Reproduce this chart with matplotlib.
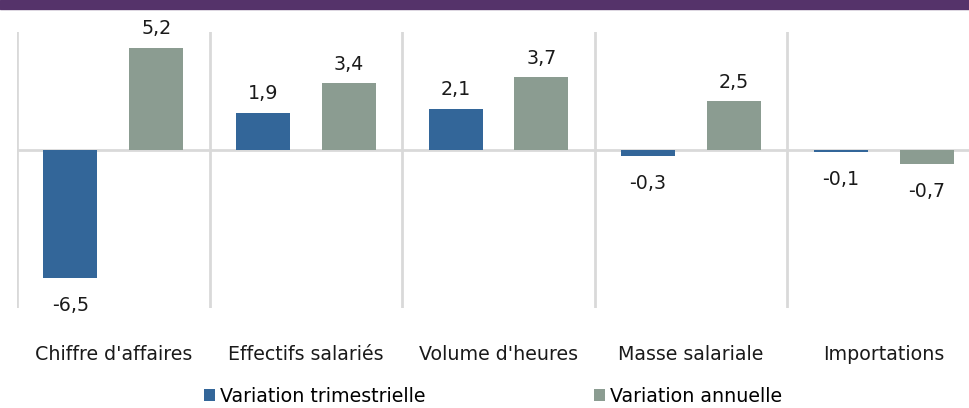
import numpy as np
import matplotlib.pyplot as plt
from matplotlib.patches import Rectangle

categories = ["Chiffre d'affaires", "Effectifs salariés", "Volume d'heures",
              "Masse salariale", "Importations"]
trimestrielle = [-6.5, 1.9, 2.1, -0.3, -0.1]
annuelle = [5.2, 3.4, 3.7, 2.5, -0.7]
series_names = ["Variation trimestrielle", "Variation annuelle"]

blue = "#336699"
gray = "#8B9C91"
grid_col = "#D9D9D9"

fig = plt.figure(figsize=(9.7, 4.08), dpi=100)
W, H = 970, 408
# axes: x 17..980 px, y 32..308 px
ax = fig.add_axes([17 / W, 1 - 308 / H, 963 / W, 276 / H])

# purple band at the top
fig.patches.append(Rectangle((0, 1 - 9 / H), 1, 9 / H, transform=fig.transFigure,
                             color="#55336A", zorder=0))

x = np.arange(len(categories))
w = 0.28
off = 0.223
b1 = ax.bar(x - off, trimestrielle, w, color=blue, label=series_names[0], zorder=3)
b2 = ax.bar(x + off, annuelle, w, color=gray, label=series_names[1], zorder=3)

ax.set_xlim(-0.5, len(categories) - 0.5)
ax.set_ylim(-8, 6)

for xc in np.arange(len(categories) + 1) - 0.5:
    ax.axvline(xc, color=grid_col, lw=2, zorder=1)
ax.axhline(0, color=grid_col, lw=2, zorder=2)

fs = 13.7
for bars, vals in ((b1, trimestrielle), (b2, annuelle)):
    for r, v in zip(bars, vals):
        txt = f"{v:.1f}".replace(".", ",")
        dy = 19 if v >= 0 else -27
        ax.annotate(txt, (r.get_x() + r.get_width() / 2, v), xytext=(0, dy),
                    textcoords="offset pixels",
                    ha="center", va="center", fontsize=fs, color="#1a1a1a")

for s in ax.spines.values():
    s.set_visible(False)
ax.set_yticks([])
ax.set_xticks(x)
ax.set_xticklabels(categories, fontsize=fs, color="#1a1a1a")
ax.tick_params(axis="x", length=0, pad=27)

fig.legend(handles=[b1, b2], loc="center left", bbox_to_anchor=(204 / W, 1 - 396 / H),
           ncol=2, frameon=False, fontsize=fs, handlelength=0.6, handleheight=0.6,
           handletextpad=0.25, columnspacing=8.85, borderaxespad=0, borderpad=0)

fig.savefig("out.png", dpi=100)
